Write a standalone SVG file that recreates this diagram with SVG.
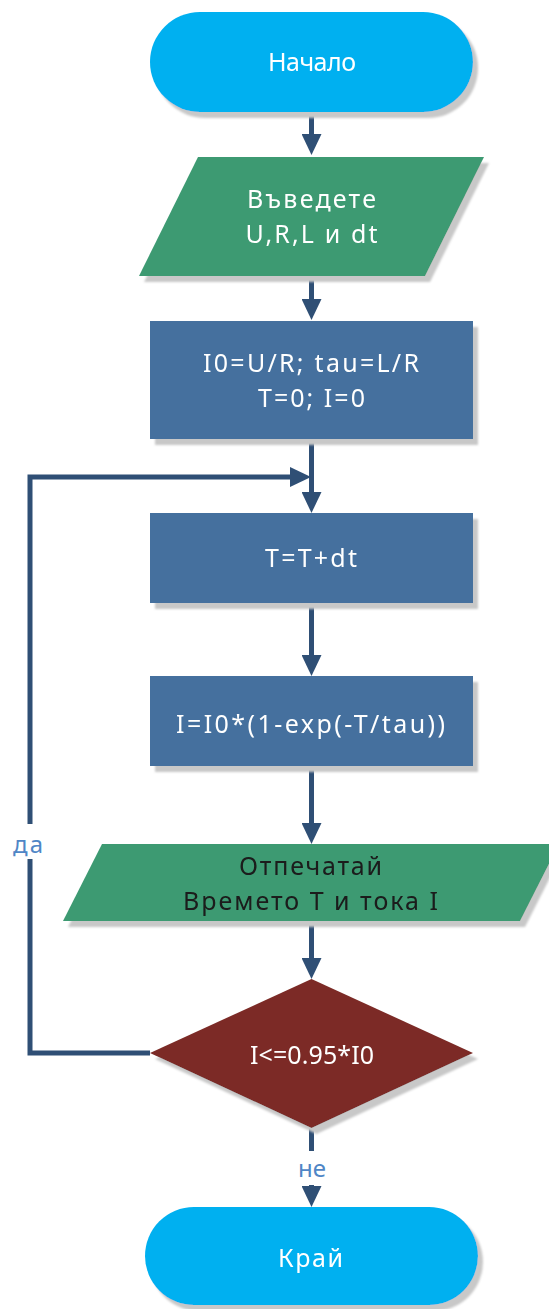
<svg xmlns="http://www.w3.org/2000/svg" width="549" height="1309" viewBox="0 0 549 1309">
  <style>
    .node { filter: url(#shadow); }
    .term { fill: #00B0F0; }
    .io { fill: #3D9A72; }
    .proc { fill: #44709E; }
    .dec { fill: #7B2C27; }
    .lbl { font-family: "Noto Sans", "Open Sans", sans-serif; font-size: 25px; text-anchor: middle; fill: #ffffff; }
    .dark { fill: #1a1a1a; }
    .edge { fill: none; stroke: #2F4F75; stroke-width: 5; marker-end: url(#head); }
    .elbl { font-family: "Noto Sans", "Open Sans", sans-serif; font-size: 24px; text-anchor: middle; fill: #4F86C6; }
  </style>
  <defs>
    <filter id="shadow" x="-10%" y="-10%" width="125%" height="130%">
      <feGaussianBlur in="SourceAlpha" stdDeviation="1.2" result="b"/>
      <feOffset in="b" dx="5" dy="6" result="o"/>
      <feFlood flood-color="#c8c8c8"/>
      <feComposite in2="o" operator="in" result="s"/>
      <feMerge>
        <feMergeNode in="s"/>
        <feMergeNode in="SourceGraphic"/>
      </feMerge>
    </filter>
    <marker id="head" markerUnits="userSpaceOnUse" viewBox="0 0 21 20" markerWidth="21" markerHeight="20" refX="0" refY="10" orient="auto">
      <path d="M0,0 L21,10 L0,20 Z" fill="#2F4F75"/>
    </marker>
  </defs>

  <!-- connectors -->
  <g id="connectors">
    <path class="edge" d="M311.5,112 V134"/>
    <path class="edge" d="M311.5,276 V299"/>
    <path class="edge" d="M311.5,439 V492"/>
    <path class="edge" d="M311.5,603 V655"/>
    <path class="edge" d="M311.5,766 V823"/>
    <path class="edge" d="M311.5,921 V958"/>
    <path class="edge" d="M311.5,1128 V1186"/>
    <rect x="294" y="1151" width="35" height="34" fill="#ffffff"/>
    <text class="elbl" x="312" y="1177" textLength="28">не</text>
    <path class="edge" d="M150,1053 H30 V477 H290"/>
    <rect x="10" y="824" width="38" height="35" fill="#ffffff"/>
    <text class="elbl" x="28" y="853" textLength="30">да</text>
  </g>

  <!-- start -->
  <g id="start" class="node">
    <rect class="term" x="150" y="12" width="323" height="100" rx="50"/>
    <text class="lbl" x="312" y="71" textLength="88">Начало</text>
  </g>

  <!-- input -->
  <g id="input" class="node">
    <polygon class="io" points="198,157 484,157 425,276 139,276"/>
    <text class="lbl" x="311.5" y="208" textLength="129">Въведете</text>
    <text class="lbl" x="311.5" y="243" textLength="132">U,R,L и dt</text>
  </g>

  <!-- initialisation -->
  <g id="init" class="node">
    <rect class="proc" x="150" y="321" width="323" height="118"/>
    <text class="lbl" x="311" y="372" textLength="216">I0=U/R; tau=L/R</text>
    <text class="lbl" x="311.5" y="407" textLength="107">T=0; I=0</text>
  </g>

  <!-- time step -->
  <g id="step" class="node">
    <rect class="proc" x="150" y="513" width="323" height="90"/>
    <text class="lbl" x="311" y="567" textLength="92">T=T+dt</text>
  </g>

  <!-- current -->
  <g id="current" class="node">
    <rect class="proc" x="150" y="676" width="323" height="90"/>
    <text class="lbl" x="310.5" y="733" textLength="269">I=I0*(1-exp(-T/tau))</text>
  </g>

  <!-- output -->
  <g id="output" class="node">
    <polygon class="io" points="102,844 559,844 520,921 63,921"/>
    <text class="lbl dark" x="310.5" y="875" textLength="143">Отпечатай</text>
    <text class="lbl dark" x="310.5" y="910" textLength="255">Времето T и тока I</text>
  </g>

  <!-- condition -->
  <g id="condition" class="node">
    <polygon class="dec" points="311.5,979 473,1053 311.5,1128 150,1053"/>
    <text class="lbl" x="312" y="1064" textLength="124">I&lt;=0.95*I0</text>
  </g>

  <!-- end -->
  <g id="end" class="node">
    <rect class="term" x="145" y="1207" width="333" height="98" rx="49"/>
    <text class="lbl" x="310.5" y="1267" textLength="65">Край</text>
  </g>
</svg>
